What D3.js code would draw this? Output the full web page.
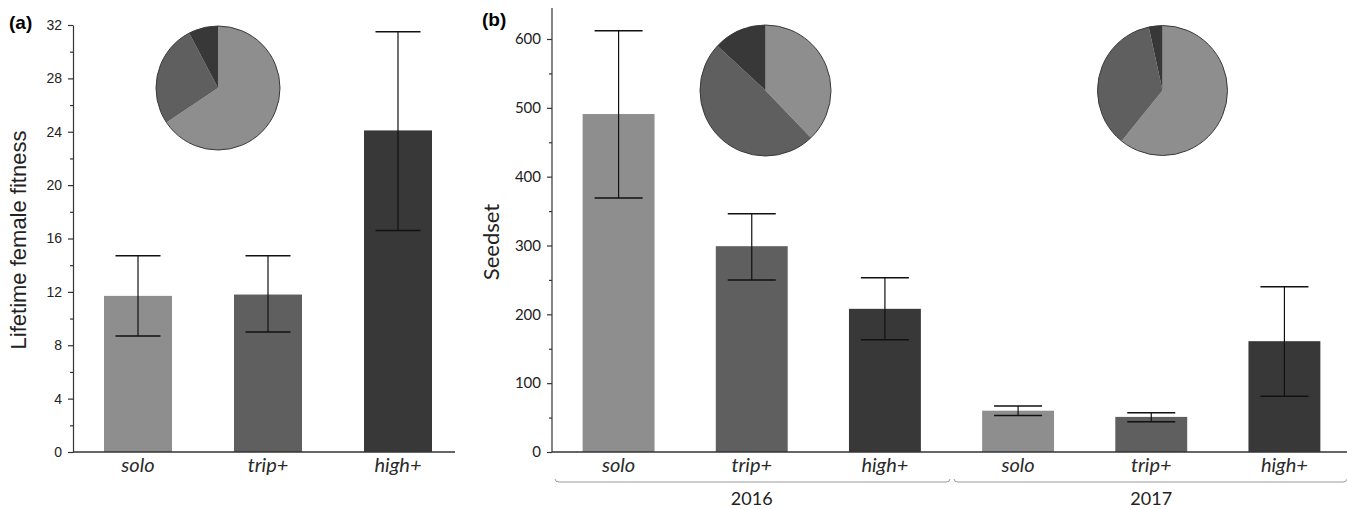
<!DOCTYPE html>
<html>
<head>
<meta charset="utf-8">
<script src="https://cdn.jsdelivr.net/npm/d3@7"></script>
<style>
  body { margin: 0; background: #fff; }
  svg { display: block; }
  .axis path, .axis line { stroke: #333; stroke-width: 1.2; }
  .axisA text { font-family: "Liberation Sans", Arial, sans-serif; font-size: 14px; fill: #222; }
  .axisB text { font-family: Lato, "Noto Sans", sans-serif; font-size: 15px; fill: #222; }
</style>
</head>
<body>
<div id="chart"></div>
<script>
// Panel (a) data: lifetime female fitness
var groupsA = ["solo", "trip+", "high+"];
var fitnessMean = [11.7, 11.8, 24.1];
var fitnessLow = [8.7, 9.0, 16.6];
var fitnessHigh = [14.7, 14.7, 31.5];
var pieA = [0.656, 0.267, 0.077];

// Panel (b) data: seedset by year
var years = ["2016", "2017"];
var groupsB = ["solo", "trip+", "high+", "solo", "trip+", "high+"];
var seedMean = [491, 299, 208, 60, 51, 161];
var seedLow = [369, 250, 163, 53, 44, 81];
var seedHigh = [612, 346, 253, 67, 57, 240];
var pie2016 = [0.378, 0.491, 0.131];
var pie2017 = [0.608, 0.358, 0.034];

var ticksA = [0, 4, 8, 12, 16, 20, 24, 28, 32];
var ticksB = [0, 100, 200, 300, 400, 500, 600];

var colors = ["#8e8e8e", "#5f5f5f", "#383838"];

var svgWidth = 1347;
var svgHeight = 509;

var svg = d3.select("#chart")
  .append("svg")
  .attr("width", svgWidth)
  .attr("height", svgHeight);

var baseY = 452;

// ---------- panel (a) ----------
var xA = d3.scaleBand()
  .domain(d3.range(groupsA.length))
  .range([73, 463])
  .paddingInner(0.477)
  .paddingOuter(0.2385);

var yA = d3.scaleLinear()
  .domain([0, 32])
  .range([baseY, 25]);

var gA = svg.append("g");

gA.append("g")
  .attr("class", "axis axisA")
  .attr("transform", "translate(73,0)")
  .call(d3.axisLeft(yA).tickValues(d3.range(2, 32, 4)).tickSize(3).tickFormat(""))
  .call(g => g.select(".domain").remove());

gA.append("g")
  .attr("class", "axis axisA")
  .attr("transform", "translate(73,0)")
  .call(d3.axisLeft(yA).tickValues(ticksA).tickSize(5).tickSizeOuter(0).tickPadding(6));

gA.selectAll(".barA")
  .data(fitnessMean)
  .enter()
  .append("rect")
  .attr("class", "barA")
  .attr("x", (d, i) => xA(i))
  .attr("width", xA.bandwidth())
  .attr("y", d => yA(d))
  .attr("height", d => baseY - yA(d))
  .attr("fill", (d, i) => colors[i]);

gA.append("line")
  .attr("x1", 73).attr("x2", 455)
  .attr("y1", baseY).attr("y2", baseY)
  .attr("stroke", "#333").attr("stroke-width", 1.3);

var errA = gA.selectAll(".errA")
  .data(fitnessMean)
  .enter()
  .append("g")
  .attr("class", "errA")
  .attr("transform", (d, i) => `translate(${xA(i) + xA.bandwidth() / 2},0)`);

errA.append("line")
  .attr("y1", (d, i) => yA(fitnessLow[i]))
  .attr("y2", (d, i) => yA(fitnessHigh[i]))
  .attr("stroke", "#111").attr("stroke-width", 1.2);
errA.append("line")
  .attr("x1", -22.5).attr("x2", 22.5)
  .attr("y1", (d, i) => yA(fitnessLow[i])).attr("y2", (d, i) => yA(fitnessLow[i]))
  .attr("stroke", "#111").attr("stroke-width", 1.5);
errA.append("line")
  .attr("x1", -22.5).attr("x2", 22.5)
  .attr("y1", (d, i) => yA(fitnessHigh[i])).attr("y2", (d, i) => yA(fitnessHigh[i]))
  .attr("stroke", "#111").attr("stroke-width", 1.5);

gA.selectAll(".catA")
  .data(groupsA)
  .enter()
  .append("text")
  .attr("class", "catA")
  .attr("x", (d, i) => xA(i) + xA.bandwidth() / 2)
  .attr("y", 472)
  .attr("text-anchor", "middle")
  .style("font-family", "Lato, 'Noto Sans', sans-serif")
  .style("font-style", "italic")
  .style("font-size", "20px")
  .style("fill", "#2a2a2a")
  .text(d => d);

gA.append("text")
  .attr("transform", "rotate(-90)")
  .attr("x", -240)
  .attr("y", 26)
  .attr("text-anchor", "middle")
  .style("font-family", "'Liberation Sans', Arial, sans-serif")
  .style("font-size", "22px")
  .style("fill", "#222")
  .text("Lifetime female fitness");

gA.append("text")
  .attr("x", 9).attr("y", 29)
  .style("font-family", "'Liberation Sans', Arial, sans-serif")
  .style("font-weight", "bold")
  .style("font-size", "19px")
  .text("(a)");

// ---------- panel (b) ----------
var xB = d3.scaleBand()
  .domain(d3.range(groupsB.length))
  .range([552, 1351])
  .paddingInner(0.46)
  .paddingOuter(0.23);

var yB = d3.scaleLinear()
  .domain([0, 600])
  .range([baseY, 39]);

var gB = svg.append("g");

gB.append("g")
  .attr("class", "axis axisB")
  .attr("transform", "translate(552,0)")
  .call(d3.axisLeft(yB).tickValues(d3.range(50, 650, 100)).tickSize(3).tickFormat(""))
  .call(g => g.select(".domain").remove());

gB.append("g")
  .attr("class", "axis axisB")
  .attr("transform", "translate(552,0)")
  .call(d3.axisLeft(yB).tickValues(ticksB).tickSize(5).tickSizeOuter(0).tickPadding(6))
  .call(g => g.select(".domain").attr("d", `M0,8V${baseY}`));

gB.selectAll(".barB")
  .data(seedMean)
  .enter()
  .append("rect")
  .attr("class", "barB")
  .attr("x", (d, i) => xB(i))
  .attr("width", xB.bandwidth())
  .attr("y", d => yB(d))
  .attr("height", d => baseY - yB(d))
  .attr("fill", (d, i) => colors[i % 3]);

gB.append("line")
  .attr("x1", 552).attr("x2", 1347)
  .attr("y1", baseY).attr("y2", baseY)
  .attr("stroke", "#333").attr("stroke-width", 1.3);

var errB = gB.selectAll(".errB")
  .data(seedMean)
  .enter()
  .append("g")
  .attr("class", "errB")
  .attr("transform", (d, i) => `translate(${xB(i) + xB.bandwidth() / 2},0)`);

errB.append("line")
  .attr("y1", (d, i) => yB(seedLow[i]))
  .attr("y2", (d, i) => yB(seedHigh[i]))
  .attr("stroke", "#111").attr("stroke-width", 1.2);
errB.append("line")
  .attr("x1", -24).attr("x2", 24)
  .attr("y1", (d, i) => yB(seedLow[i])).attr("y2", (d, i) => yB(seedLow[i]))
  .attr("stroke", "#111").attr("stroke-width", 1.5);
errB.append("line")
  .attr("x1", -24).attr("x2", 24)
  .attr("y1", (d, i) => yB(seedHigh[i])).attr("y2", (d, i) => yB(seedHigh[i]))
  .attr("stroke", "#111").attr("stroke-width", 1.5);

gB.selectAll(".catB")
  .data(groupsB)
  .enter()
  .append("text")
  .attr("class", "catB")
  .attr("x", (d, i) => xB(i) + xB.bandwidth() / 2)
  .attr("y", 472)
  .attr("text-anchor", "middle")
  .style("font-family", "Lato, 'Noto Sans', sans-serif")
  .style("font-style", "italic")
  .style("font-size", "20px")
  .style("fill", "#2a2a2a")
  .text(d => d);

// year brackets under the category labels
var bracketY = 482;
var brackets = [[555, 950], [954, 1347]];
gB.selectAll(".bracket")
  .data(years)
  .enter()
  .append("path")
  .attr("class", "bracket")
  .attr("d", (d, i) => {
    var x0 = brackets[i][0], x1 = brackets[i][1];
    return `M${x0},${bracketY - 3}Q${x0},${bracketY} ${x0 + 4},${bracketY}L${x1 - 4},${bracketY}Q${x1},${bracketY} ${x1},${bracketY - 3}`;
  })
  .attr("fill", "none")
  .attr("stroke", "#9a9a9a")
  .attr("stroke-width", 1);

gB.selectAll(".year")
  .data(years)
  .enter()
  .append("text")
  .attr("class", "year")
  .attr("x", (d, i) => xB(i * 3 + 1) + xB.bandwidth() / 2)
  .attr("y", 505)
  .attr("text-anchor", "middle")
  .style("font-family", "Lato, 'Noto Sans', sans-serif")
  .style("font-size", "18px")
  .style("fill", "#222")
  .text(d => d);

gB.append("text")
  .attr("transform", "rotate(-90)")
  .attr("x", -242)
  .attr("y", 499)
  .attr("text-anchor", "middle")
  .style("font-family", "Lato, 'Noto Sans', sans-serif")
  .style("font-size", "22px")
  .style("fill", "#222")
  .text("Seedset");

gB.append("text")
  .attr("x", 482).attr("y", 26)
  .style("font-family", "'Liberation Sans', Arial, sans-serif")
  .style("font-weight", "bold")
  .style("font-size", "19px")
  .text("(b)");

// ---------- inset pies ----------
var pies = [
  { values: pieA, cx: 218, cy: 88, r: 62 },
  { values: pie2016, cx: 765.5, cy: 90.5, r: 65.5 },
  { values: pie2017, cx: 1162.5, cy: 90.5, r: 65 }
];

var pieLayout = d3.pie().sort(null);

pies.forEach(function(p) {
  var arc = d3.arc().innerRadius(0).outerRadius(p.r);
  var g = svg.append("g").attr("transform", `translate(${p.cx},${p.cy})`);
  g.selectAll("path")
    .data(pieLayout(p.values))
    .enter()
    .append("path")
    .attr("d", arc)
    .attr("fill", (d, i) => colors[i]);
  g.append("circle")
    .attr("r", p.r)
    .attr("fill", "none")
    .attr("stroke", "#3a3a3a")
    .attr("stroke-width", 1);
});
</script>
</body>
</html>
